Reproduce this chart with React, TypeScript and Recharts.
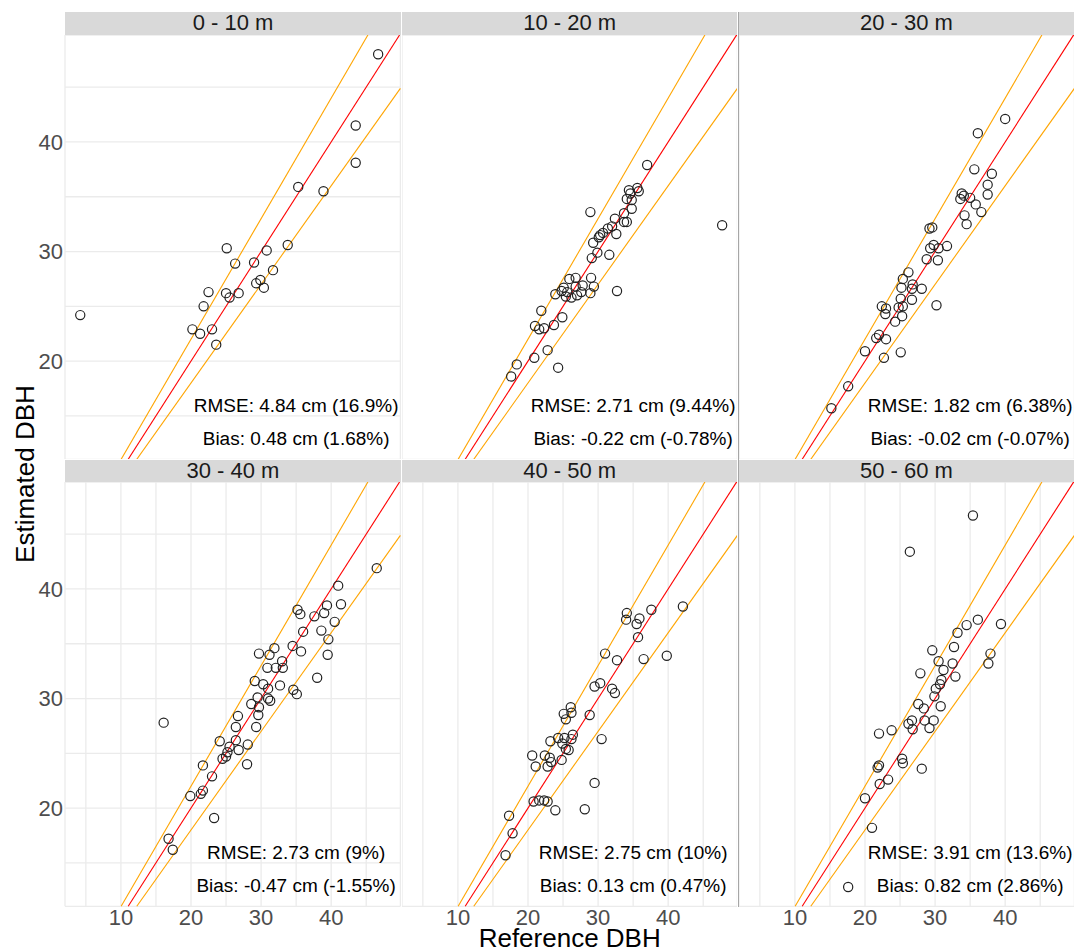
import {
  ScatterChart,
  Scatter,
  XAxis,
  YAxis,
  CartesianGrid,
  ReferenceLine,
  ReferenceDot,
} from "recharts";

type Pt = [number, number];

// reference DBH (cm), estimated DBH (cm) per height class
const h0_10: Pt[] = [
  [46.7, 48.0], [43.5, 41.5], [43.5, 38.1], [35.3, 35.9], [38.9, 35.5], [25.1, 30.3],
  [30.8, 30.1], [33.8, 30.6], [26.3, 28.9], [29.0, 29.0], [31.7, 28.3], [22.5, 26.3],
  [25.0, 26.2], [25.5, 25.8], [26.8, 26.2], [29.3, 27.1], [29.9, 27.4], [30.4, 26.7],
  [21.8, 25.0], [20.2, 22.9], [21.3, 22.5], [23.0, 22.9], [23.6, 21.5], [4.2, 24.2],
];

const h10_20: Pt[] = [
  [37.0, 37.9], [35.6, 35.8], [35.8, 35.5], [34.4, 35.6], [34.6, 35.3], [34.1, 34.8],
  [34.8, 34.7], [34.8, 33.9], [33.7, 33.5], [34.1, 32.7], [33.7, 32.7], [32.4, 33.0],
  [32.0, 32.3], [31.4, 32.1], [30.7, 31.7], [30.3, 31.5], [30.1, 31.3], [32.6, 31.6],
  [28.9, 33.6], [29.3, 30.8], [29.9, 29.9], [29.1, 29.4], [31.6, 29.7], [47.7, 32.4],
  [29.0, 27.6], [26.8, 27.6], [25.9, 27.5], [25.1, 26.7], [24.8, 26.4], [25.6, 26.3],
  [26.8, 26.8], [27.8, 26.9], [27.6, 26.3], [27.0, 26.0], [26.2, 25.8], [25.4, 25.9],
  [29.4, 26.8], [28.9, 26.2], [23.9, 26.1], [32.7, 26.4], [21.9, 24.6], [24.9, 24.0],
  [23.7, 23.3], [21.0, 23.2], [21.6, 22.9], [22.3, 23.0], [22.8, 21.0], [20.9, 20.3],
  [18.4, 19.7], [24.3, 19.4], [17.6, 18.6],
];

const h20_30: Pt[] = [
  [40.0, 42.1], [36.1, 40.8], [35.6, 37.5], [38.1, 37.1], [37.5, 36.1], [37.5, 35.2],
  [33.8, 35.3], [34.1, 35.1], [33.6, 34.8], [35.0, 34.9], [35.8, 34.3], [36.6, 33.6],
  [34.2, 33.3], [34.5, 32.5], [29.2, 32.1], [29.6, 32.2], [31.7, 30.5], [29.8, 30.6],
  [29.3, 30.3], [30.5, 30.3], [28.8, 29.3], [30.4, 29.2], [26.2, 28.1], [25.4, 27.5],
  [26.8, 27.0], [25.2, 26.7], [26.7, 26.6], [28.1, 26.6], [25.1, 25.7], [26.7, 25.6],
  [24.8, 24.9], [25.4, 25.0], [22.4, 25.0], [23.0, 24.8], [22.9, 24.3], [25.3, 24.1],
  [24.3, 23.6], [30.2, 25.1], [22.0, 22.4], [21.6, 22.1], [23.0, 22.0], [20.0, 20.9],
  [25.1, 20.8], [22.7, 20.3], [17.6, 17.7], [15.2, 15.7],
];

const h30_40: Pt[] = [
  [46.5, 41.9], [41.0, 40.3], [41.4, 38.6], [39.4, 38.5], [39.0, 37.8], [37.6, 37.5],
  [40.5, 37.0], [35.2, 38.1], [35.6, 37.7], [36.0, 36.1], [38.6, 36.2], [39.6, 35.4],
  [39.5, 34.0], [34.5, 34.8], [35.7, 34.3], [31.9, 34.6], [31.2, 34.0], [29.7, 34.1],
  [33.0, 33.4], [33.1, 32.8], [32.1, 32.8], [30.9, 32.8], [38.0, 31.9], [29.1, 31.6],
  [30.3, 31.3], [32.7, 31.2], [31.0, 30.9], [34.6, 30.8], [35.1, 30.4], [31.0, 30.0],
  [31.3, 29.8], [29.5, 30.1], [28.6, 29.5], [29.7, 29.2], [29.6, 28.5], [26.7, 28.4],
  [26.4, 27.4], [29.3, 27.4], [16.1, 27.8], [24.1, 26.1], [26.4, 26.2], [28.1, 25.8],
  [26.8, 25.3], [25.5, 25.6], [25.2, 25.1], [25.0, 24.7], [24.5, 24.5], [28.0, 24.0],
  [21.7, 23.9], [23.0, 22.9], [21.7, 21.6], [21.4, 21.3], [19.9, 21.1], [23.3, 19.1],
  [16.8, 17.2], [17.4, 16.2],
];

const h40_50: Pt[] = [
  [42.1, 38.4], [37.6, 38.1], [34.1, 37.8], [34.0, 37.2], [35.9, 37.3], [35.5, 36.8],
  [35.7, 35.6], [31.0, 34.1], [32.7, 33.5], [36.5, 33.6], [39.8, 33.9], [29.5, 31.1],
  [30.3, 31.4], [32.0, 30.9], [32.4, 30.5], [28.8, 28.5], [26.1, 29.2], [25.1, 28.6],
  [26.2, 28.7], [25.4, 28.1], [26.4, 26.7], [26.2, 26.3], [25.2, 26.4], [24.3, 26.4],
  [23.2, 26.1], [24.9, 25.9], [25.4, 25.4], [25.8, 25.3], [30.5, 26.3], [20.6, 24.8],
  [22.4, 24.8], [23.1, 24.6], [23.3, 24.2], [24.8, 24.4], [21.1, 23.8], [22.8, 23.8],
  [29.5, 22.3], [20.8, 20.6], [21.6, 20.7], [22.3, 20.7], [22.8, 20.6], [23.9, 19.8],
  [28.1, 19.9], [17.3, 19.3], [17.8, 17.7], [16.8, 15.7],
];

const h50_60: Pt[] = [
  [35.4, 46.7], [26.4, 43.4], [36.1, 37.2], [34.5, 36.7], [39.4, 36.8], [33.2, 36.0],
  [32.7, 34.7], [29.6, 34.4], [30.5, 33.4], [37.9, 34.1], [37.6, 33.2], [32.5, 33.2],
  [31.2, 32.6], [32.9, 32.0], [27.9, 32.3], [30.9, 31.7], [30.7, 31.3], [30.1, 30.9],
  [29.9, 30.2], [27.6, 29.5], [28.4, 29.1], [30.8, 29.3], [26.7, 28.0], [26.2, 27.7],
  [26.8, 27.2], [28.5, 28.0], [29.8, 28.0], [29.2, 27.3], [22.0, 26.8], [23.8, 27.1],
  [25.3, 24.5], [25.4, 24.1], [22.0, 23.9], [21.8, 23.7], [28.1, 23.6], [23.3, 22.6],
  [22.1, 22.2], [20.0, 20.9], [21.0, 18.2], [17.6, 12.8],
];

const heightClasses = ["0 - 10 m", "10 - 20 m", "20 - 30 m", "30 - 40 m", "40 - 50 m", "50 - 60 m"];
const rmseLabels = [
  "RMSE: 4.84 cm (16.9%)",
  "RMSE: 2.71 cm (9.44%)",
  "RMSE: 1.82 cm (6.38%)",
  "RMSE: 2.73 cm (9%)",
  "RMSE: 2.75 cm (10%)",
  "RMSE: 3.91 cm (13.6%)",
];
const biasLabels = [
  "Bias: 0.48 cm (1.68%)",
  "Bias: -0.22 cm (-0.78%)",
  "Bias: -0.02 cm (-0.07%)",
  "Bias: -0.47 cm (-1.55%)",
  "Bias: 0.13 cm (0.47%)",
  "Bias: 0.82 cm (2.86%)",
];

const xTicks = [5, 10, 15, 20, 25, 30, 35, 40, 45];
const yTicks = [15, 20, 25, 30, 35, 40, 45];

const panels = [h0_10, h10_20, h20_30, h30_40, h40_50, h50_60];

// shared scales, 5% padding like ggplot
const allPts = panels.flat();
const pad = (vals: number[]): [number, number] => {
  const lo = Math.min(...vals);
  const hi = Math.max(...vals);
  const e = (hi - lo) * 0.05;
  return [lo - e, hi + e];
};
const xDomain = pad(allPts.map((p) => p[0]));
const yDomain = pad(allPts.map((p) => p[1]));

// 1:1 line and +/-10% lines, trimmed to the panel
const guides = [
  { slope: 1.1, color: "#ffa500" },
  { slope: 0.9, color: "#ffa500" },
  { slope: 1, color: "#ff0000" },
];
const segmentFor = (s: number) => {
  const a = Math.max(xDomain[0], yDomain[0] / s);
  const b = Math.min(xDomain[1], yDomain[1] / s);
  return [
    { x: a, y: a * s },
    { x: b, y: b * s },
  ];
};

const PLOT_W = 335.4;
const PLOT_H = 424.3;
const STRIP_H = 22.4;
const colLeft = [65.3, 402.0, 738.7];
const stripTop = [12.3, 459.8];
const Y_AXIS_W = 60;
const X_AXIS_H = 30;

const tickFmt = (v: number) => (v % 10 === 0 ? String(v) : "");
const tickStyle = { fill: "#4d4d4d", fontSize: 22 };

const OpenCircle = (props: any) => (
  <circle cx={props.cx} cy={props.cy} r={4.6} fill="none" stroke="#222" strokeWidth={1.2} />
);

const Panel = ({ idx }: { idx: number }) => {
  const row = Math.floor(idx / 3);
  const col = idx % 3;
  const showY = col === 0;
  const showX = row === 1;
  const data = panels[idx].map(([dbhRef, dbhEst]) => ({ dbhRef, dbhEst }));

  return (
    <>
      <div
        style={{
          position: "absolute",
          left: colLeft[col],
          top: stripTop[row],
          width: PLOT_W,
          height: STRIP_H,
          background: "#d9d9d9",
          color: "#1a1a1a",
          fontSize: 22,
          lineHeight: `${STRIP_H}px`,
          textAlign: "center",
        }}
      >
        {heightClasses[idx]}
      </div>
      <div
        style={{
          position: "absolute",
          left: colLeft[col] - (showY ? Y_AXIS_W : 0),
          top: stripTop[row] + STRIP_H,
        }}
      >
        <ScatterChart
          width={PLOT_W + (showY ? Y_AXIS_W : 0)}
          height={PLOT_H + (showX ? X_AXIS_H : 0)}
          margin={{ top: 0, right: 0, bottom: 0, left: 0 }}
        >
          <CartesianGrid stroke="#ebebeb" strokeWidth={1.3} />
          <XAxis
            type="number"
            dataKey="dbhRef"
            domain={xDomain}
            ticks={xTicks}
            interval={0}
            allowDataOverflow
            height={showX ? X_AXIS_H : 0}
            tick={showX ? tickStyle : false}
            tickFormatter={tickFmt}
            axisLine={false}
            tickLine={false}
            tickSize={0}
            tickMargin={3}
          />
          <YAxis
            type="number"
            dataKey="dbhEst"
            domain={yDomain}
            ticks={yTicks}
            interval={0}
            allowDataOverflow
            width={showY ? Y_AXIS_W : 0}
            tick={showY ? tickStyle : false}
            tickFormatter={tickFmt}
            axisLine={false}
            tickLine={false}
            tickSize={0}
            tickMargin={2}
          />
          {guides.map((g) => (
            <ReferenceLine
              key={g.slope}
              segment={segmentFor(g.slope)}
              stroke={g.color}
              strokeWidth={1.1}
              ifOverflow="visible"
            />
          ))}
          <Scatter data={data} shape={OpenCircle} isAnimationActive={false} />
          <ReferenceDot
            x={35}
            y={16}
            r={0}
            fill="none"
            stroke="none"
            label={{ value: rmseLabels[idx], position: "center", fill: "#000", fontSize: 19 }}
          />
          <ReferenceDot
            x={35}
            y={13}
            r={0}
            fill="none"
            stroke="none"
            label={{ value: biasLabels[idx], position: "center", fill: "#000", fontSize: 19 }}
          />
        </ScatterChart>
      </div>
    </>
  );
};

export default function App() {
  return (
    <div
      style={{
        position: "absolute",
        left: 0,
        top: 0,
        width: 1076,
        height: 951,
        overflow: "hidden",
        background: "#fff",
        fontFamily: '"Liberation Sans", Arial, sans-serif',
      }}
    >
      {panels.map((_, i) => (
        <Panel key={i} idx={i} />
      ))}
      <div
        style={{
          position: "absolute",
          left: 737.5,
          top: 12.3,
          width: 1,
          height: 894.5,
          background: "#a6a6a6",
        }}
      />
      <div
        style={{
          position: "absolute",
          left: colLeft[0],
          top: 927,
          width: colLeft[2] + PLOT_W - colLeft[0],
          height: 23,
          lineHeight: "23px",
          textAlign: "center",
          fontSize: 26,
          color: "#000",
        }}
      >
        Reference DBH
      </div>
      <div
        style={{
          position: "absolute",
          left: 25 - 150,
          top: 474 - 15,
          width: 300,
          height: 30,
          lineHeight: "30px",
          textAlign: "center",
          fontSize: 26,
          color: "#000",
          transform: "rotate(-90deg)",
        }}
      >
        Estimated DBH
      </div>
    </div>
  );
}
